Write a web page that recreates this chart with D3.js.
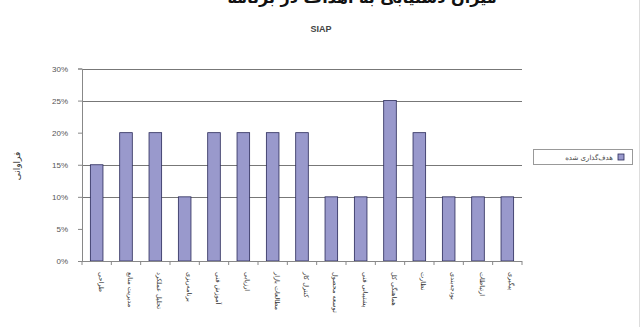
<!DOCTYPE html>
<html lang="fa">
<head>
<meta charset="utf-8">
<script src="https://cdn.jsdelivr.net/npm/d3@7/dist/d3.min.js"></script>
<style>
  html, body { margin: 0; padding: 0; background: #fff; }
  svg { display: block; }
</style>
</head>
<body>
<script>
// Category names (one per bar)
const categories = [
  "طراحی", "مدیریت منابع", "تحلیل عملکرد", "برنامه‌ریزی",
  "آموزش فنی", "ارزیابی", "مطالعات بازار", "کنترل کار",
  "توسعه محصول", "پشتیبانی فنی", "هماهنگی کل", "نظارت",
  "بودجه‌بندی", "ارتباطات", "پیگیری"
];
// Share of each category
const values = [0.15, 0.20, 0.20, 0.10, 0.20, 0.20, 0.20, 0.20, 0.10, 0.10, 0.25, 0.20, 0.10, 0.10, 0.10];
const yTicks = [0, 0.05, 0.10, 0.15, 0.20, 0.25, 0.30];
const gridValues = [0.10, 0.15, 0.25, 0.30];
const seriesName = "هدف‌گذاری شده";
const pageTitle = "میزان دستیابی به اهداف در برنامه";
const chartTitle = "SIAP";
const yLabel = "فراوانی";

const W = 641, H = 327;
const font = "'Liberation Sans', 'DejaVu Sans', Arial, sans-serif";
const svg = d3.select("body").append("svg").attr("width", W).attr("height", H);

const plot = { left: 82, right: 522, top: 68.5, bottom: 261 };

const x = d3.scaleBand().domain(categories).range([plot.left, plot.right])
  .paddingInner(0.57).paddingOuter(0.285);
const y = d3.scaleLinear().domain([0, 0.30]).range([plot.bottom, plot.top]);

// heading above the chart (runs past the top edge)
svg.append("text").attr("x", 362).attr("y", 3).attr("text-anchor", "middle")
  .attr("font-family", "'DejaVu Sans', sans-serif").attr("font-size", 16)
  .attr("font-weight", "bold")
  .attr("fill", "#111").text(pageTitle);

svg.append("text").attr("x", 321).attr("y", 32).attr("text-anchor", "middle")
  .attr("font-family", font).attr("font-weight", "bold").attr("font-size", 9)
  .attr("fill", "#444").text(chartTitle);

// right border of the chart object
svg.append("line").attr("x1", 639.5).attr("x2", 639.5).attr("y1", 0).attr("y2", H)
  .attr("stroke", "#ddd");

// gridlines
svg.append("g").selectAll("line").data(gridValues).join("line")
  .attr("x1", plot.left).attr("x2", plot.right)
  .attr("y1", d => Math.round(y(d)) + 0.5).attr("y2", d => Math.round(y(d)) + 0.5)
  .attr("stroke", "#777").attr("stroke-width", 1);

// bars
svg.append("g").selectAll("rect").data(values).join("rect")
  .attr("x", (d, i) => x(categories[i]))
  .attr("y", d => y(d))
  .attr("width", x.bandwidth())
  .attr("height", d => y(0) - y(d))
  .attr("fill", "#9999cc")
  .attr("stroke", "#2a2a5a").attr("stroke-width", 0.8);

// y axis
const yAxis = svg.append("g").attr("transform", `translate(${plot.left},0)`)
  .call(d3.axisLeft(y).tickValues(yTicks).tickFormat(d3.format(".0%")).tickSize(4).tickPadding(10));
yAxis.select(".domain").attr("stroke", "#888");
yAxis.selectAll(".tick line").attr("stroke", "#888");
yAxis.selectAll("text").attr("font-family", font).attr("font-size", 8).attr("fill", "#555");

// x axis with tick marks at category boundaries
const step = x.step();
const bounds = d3.range(categories.length + 1).map(i => x(categories[0]) - x.paddingInner() * step / 2 + i * step);
svg.append("line").attr("x1", plot.left).attr("x2", plot.right)
  .attr("y1", plot.bottom + 0.5).attr("y2", plot.bottom + 0.5).attr("stroke", "#888");
svg.append("g").selectAll("line").data(bounds).join("line")
  .attr("x1", d => d).attr("x2", d => d)
  .attr("y1", plot.bottom).attr("y2", plot.bottom + 4).attr("stroke", "#888");

// category labels, vertical
svg.append("g").selectAll("text").data(categories).join("text")
  .attr("transform", d => `translate(${x(d) + x.bandwidth() / 2 + 2},272) rotate(90)`)
  .attr("text-anchor", "start")
  .attr("font-family", "'DejaVu Sans', sans-serif").attr("font-size", 6.5)
  .attr("fill", "#333").text(d => d);

// y axis title
svg.append("text").attr("transform", "translate(20,166) rotate(-90)")
  .attr("text-anchor", "middle").attr("font-family", "'DejaVu Sans', sans-serif")
  .attr("font-size", 9).attr("fill", "#333").text(yLabel);

// legend
const lg = svg.append("g");
lg.append("rect").attr("x", 533.5).attr("y", 149.5).attr("width", 99).attr("height", 15)
  .attr("fill", "#fff").attr("stroke", "#999");
lg.append("rect").attr("x", 618).attr("y", 154).attr("width", 6).attr("height", 6)
  .attr("fill", "#9999cc").attr("stroke", "#2a2a5a").attr("stroke-width", 0.8);
lg.append("text").attr("x", 613).attr("y", 160).attr("text-anchor", "end")
  .attr("font-family", "'DejaVu Sans', sans-serif").attr("font-size", 7)
  .attr("fill", "#444").text(seriesName);
</script>
</body>
</html>
